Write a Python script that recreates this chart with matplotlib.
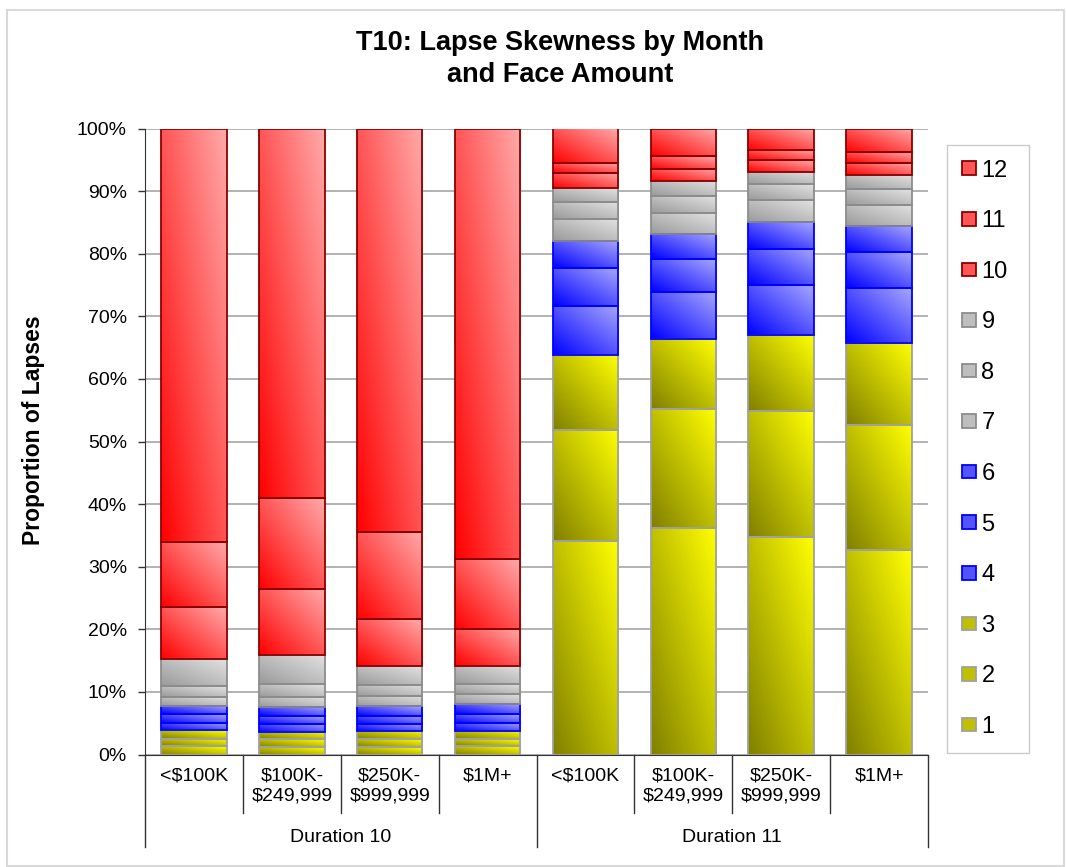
import numpy as np
import matplotlib.pyplot as plt
from matplotlib.colors import to_rgb
from matplotlib.patches import Patch, Rectangle
from matplotlib.transforms import blended_transform_factory

plt.rcParams['font.family'] = ['Liberation Sans', 'DejaVu Sans']

face_labels = ['<$100K', '$100K-\n$249,999', '$250K-\n$999,999', '$1M+',
               '<$100K', '$100K-\n$249,999', '$250K-\n$999,999', '$1M+']
durations = ['Duration 10', 'Duration 11']
month_labels = [str(i) for i in range(1, 13)]

# share of lapses (%) by month, one value per bar (D10 x4, D11 x4)
m1 = [1.3, 1.2, 1.2, 1.4, 34.1, 36.2, 34.7, 32.7]
m2 = [1.2, 1.2, 1.2, 1.1, 17.8, 19.0, 20.1, 20.0]
m3 = [1.4, 1.2, 1.3, 1.3, 11.9, 11.1, 12.2, 13.1]
m4 = [1.2, 1.3, 1.2, 1.3, 7.9, 7.6, 8.0, 8.8]
m5 = [1.3, 1.2, 1.3, 1.3, 6.0, 5.2, 5.8, 5.6]
m6 = [1.4, 1.5, 1.5, 1.6, 4.4, 4.1, 4.3, 4.2]
m7 = [1.4, 1.6, 1.6, 1.6, 3.4, 3.3, 3.5, 3.4]
m8 = [1.7, 2.0, 1.8, 1.6, 2.8, 2.7, 2.5, 2.5]
m9 = [4.4, 4.7, 3.0, 2.9, 2.2, 2.4, 2.0, 2.2]
m10 = [8.2, 10.6, 7.5, 6.0, 2.4, 2.0, 1.8, 2.0]
m11 = [10.4, 14.4, 13.9, 11.1, 1.6, 2.0, 1.7, 1.8]
m12 = [66.1, 59.1, 64.5, 68.8, 5.5, 4.4, 3.4, 3.7]
months = [m1, m2, m3, m4, m5, m6, m7, m8, m9, m10, m11, m12]

# (dark corner, light corner, edge) per quarter of the year
yellow = ('#808000', '#FFFF00', '#A0A0A0')
blue = ('#0000FF', '#A8A8FF', '#0000FF')
gray = ('#9A9A9A', '#E2E2E2', '#8C8C8C')
red = ('#FF0000', '#FFAAAA', '#8B0000')
month_style = [yellow] * 3 + [blue] * 3 + [gray] * 3 + [red] * 3


def gradient(c0, c1, n=64):
    u = np.linspace(0, 1, n)
    U, V = np.meshgrid(u, u)
    t = ((U + V) / 2)[..., None]
    a, b = np.array(to_rgb(c0)), np.array(to_rgb(c1))
    return a + (b - a) * t


W, H = 1066, 867
fig = plt.figure(figsize=(W / 100, H / 100), dpi=100)
ax = fig.add_axes([145 / W, 1 - 754.5 / H, (928 - 145) / W, 626 / H])

x = np.arange(len(face_labels))
bottom = np.zeros(len(x))
for vals, (c0, c1, ec) in zip(months, month_style):
    bars = ax.bar(x, vals, width=0.67, bottom=bottom, facecolor='none',
                  edgecolor=ec, linewidth=1.3, zorder=3)
    img = gradient(c0, c1)
    for b in bars:
        x0, y0 = b.get_x(), b.get_y()
        im = ax.imshow(img, extent=(x0, x0 + b.get_width(), y0, y0 + b.get_height()),
                       origin='lower', aspect='auto', interpolation='bilinear', zorder=2)
        im.set_clip_path(b)
    bottom += np.array(vals)

ax.set_xlim(-0.5, 7.5)
ax.set_ylim(0, 100)
ax.set_yticks(range(0, 101, 10))
ax.set_yticklabels([f'{v}%' for v in range(0, 101, 10)], fontsize=14)
ax.set_xticks([])
ax.yaxis.grid(True, color='#A6A6A6', linewidth=1.2)
ax.set_axisbelow(True)
for s in ['top', 'right']:
    ax.spines[s].set_visible(False)
ax.spines['left'].set_color('#333333')
ax.spines['bottom'].set_color('#333333')
ax.tick_params(axis='y', length=5, width=1, pad=8, color='#333333')

# two-level category axis
tr = blended_transform_factory(ax.transData, ax.transAxes)
for xi, lab in zip(x, face_labels):
    ax.text(xi, -0.021, lab, transform=tr, ha='center', va='top',
            fontsize=14, linespacing=1.22)
for xi, lab in zip([1.5, 5.5], durations):
    ax.text(xi, -0.139, lab, transform=tr, ha='center', va='baseline', fontsize=14)
for xs in [0.5, 1.5, 2.5, 4.5, 5.5, 6.5]:
    ax.plot([xs, xs], [0, -0.093], transform=tr, color='#333333', lw=1, clip_on=False)
for xs in [-0.5, 3.5, 7.5]:
    ax.plot([xs, xs], [0, -0.147], transform=tr, color='#333333', lw=1, clip_on=False)

fig.text(34 / W, 1 - 430 / H, 'Proportion of Lapses', rotation=90, fontsize=16.5,
         fontweight='bold', ha='center', va='center')
fig.text(560 / W, 1 - 30 / H, 'T10: Lapse Skewness by Month\nand Face Amount',
         ha='center', va='top', fontsize=19.5, fontweight='bold', linespacing=1.3)

handles = []
for c0, c1, ec in month_style:
    mid = (np.array(to_rgb(c0)) + np.array(to_rgb(c1))) / 2
    handles.append(Patch(facecolor=mid, edgecolor=ec, linewidth=1.3))
leg = fig.legend(handles[::-1], month_labels[::-1], loc='upper left',
                 bbox_to_anchor=(947 / W, 0, 82 / W, 1 - 145 / H), mode='expand',
                 fontsize=17, frameon=True, fancybox=False, edgecolor='#BFBFBF',
                 handlelength=0.59, handleheight=0.51, handletextpad=0.25,
                 labelspacing=1.21, borderpad=0.62, borderaxespad=0)
leg.get_frame().set_linewidth(1)

fig.patches.append(Rectangle((7 / W, 1 / H), (1064 - 7) / W, (866 - 10) / H,
                             transform=fig.transFigure, fill=False,
                             edgecolor='#D9D9D9', linewidth=1.5))

fig.savefig('out.png', dpi=100)
